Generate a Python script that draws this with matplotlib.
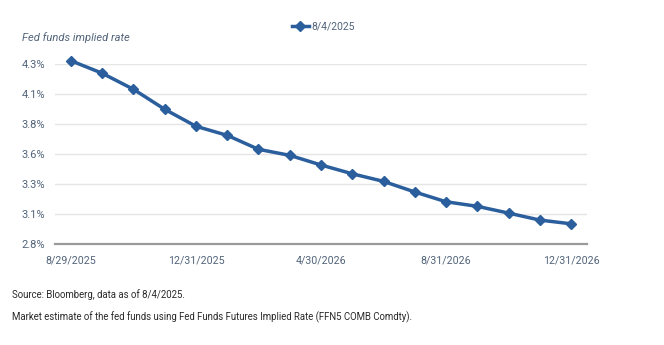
import matplotlib
matplotlib.use("Agg")
import matplotlib.pyplot as plt
from matplotlib.ticker import FixedLocator

dates = ["8/29/2025", "9/30/2025", "10/31/2025", "11/28/2025", "12/31/2025",
         "1/30/2026", "2/27/2026", "3/31/2026", "4/30/2026", "5/29/2026",
         "6/30/2026", "7/31/2026", "8/31/2026", "9/30/2026", "10/30/2026",
         "11/30/2026", "12/31/2026"]
rates = [4.323, 4.219, 4.086, 3.920, 3.779, 3.704, 3.588, 3.538, 3.458,
         3.385, 3.322, 3.234, 3.153, 3.115, 3.059, 3.001, 2.970]
series_label = "8/4/2025"
y_ticks = [2.8, 3.05, 3.3, 3.55, 3.8, 4.05, 4.3]
y_tick_labels = ["2.8%", "3.1%", "3.3%", "3.6%", "3.8%", "4.1%", "4.3%"]
x_tick_every = 4

plt.rcParams['font.family'] = ['Roboto', 'DejaVu Sans']

W, H = 664, 345
fig = plt.figure(figsize=(W / 100, H / 100), dpi=100)
ax = fig.add_axes([55 / W, 1 - 244.3 / H, (587 - 55) / W, (244.3 - 63.5) / H])

line_color = "#2b5e9c"
x = list(range(len(dates)))
ax.plot(x, rates, color=line_color, lw=2.5, marker="D", markersize=4.8,
        label=series_label, clip_on=False, zorder=3)

ax.set_xlim(-0.51, len(dates) - 1 + 0.51)
ax.set_ylim(2.8, 4.3)
ax.yaxis.set_major_locator(FixedLocator(y_ticks))
ax.set_yticklabels(y_tick_labels)
xt = list(range(0, len(dates), x_tick_every))
ax.set_xticks(xt)
ax.set_xticklabels([dates[i] for i in xt])

ax.grid(axis="y", color="#e5e5e5", lw=1.0)
ax.set_axisbelow(True)
for s in ["top", "right", "left"]:
    ax.spines[s].set_visible(False)
ax.spines["bottom"].set_color("#9a9a9a")
ax.spines["bottom"].set_linewidth(1.6)
ax.tick_params(axis="both", length=0, labelcolor="#52647a")
ax.tick_params(axis="y", pad=7, labelsize=8)
ax.tick_params(axis="x", pad=8, labelsize=7.7)

fig.text(22 / W, 1 - 38 / H, "Fed funds implied rate", fontsize=8, style="italic",
         color="#52647a", va="center", ha="left")

leg = fig.legend(loc="center", bbox_to_anchor=(323 / W, 1 - 27 / H), frameon=False,
                 fontsize=7.5, handlelength=1.7, handletextpad=0.15, labelcolor="#52647a")

fig.text(12 / W, 1 - 295 / H, "Source: Bloomberg, data as of 8/4/2025.", fontsize=6.9,
         color="#2a2a2a", va="center", ha="left")
fig.text(12 / W, 1 - 317 / H,
         "Market estimate of the fed funds using Fed Funds Futures Implied Rate (FFN5 COMB Comdty).",
         fontsize=6.9, color="#2a2a2a", va="center", ha="left")

fig.savefig("out.png", dpi=100, facecolor="white")
